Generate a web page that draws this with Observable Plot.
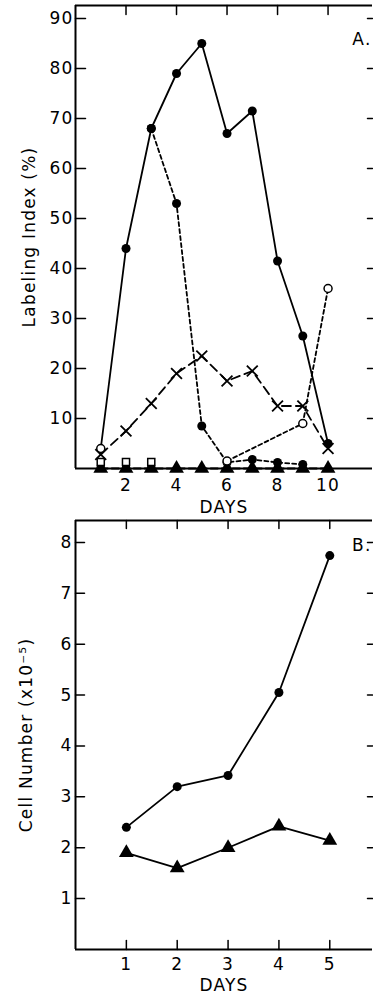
<!DOCTYPE html>
<html><head><meta charset="utf-8">
<script src="https://cdn.jsdelivr.net/npm/d3@7"></script>
<script src="https://cdn.jsdelivr.net/npm/@observablehq/plot@0.6"></script>
<style>
body{margin:0;background:#fff}
#c svg{display:block;overflow:visible}
</style>
</head><body><div id="c"></div>
<script>
// ---------- Panel A data ----------
const tickDaysA = [2, 4, 6, 8, 10];
const yTicksA = [10, 20, 30, 40, 50, 60, 70, 80, 90];
const yMaxA = 92.6, xMaxA = 11.76;
const solidDays = [1, 2, 3, 4, 5, 6, 7, 8, 9, 10];
const solidVals = [4, 44, 68, 79, 85, 67, 71.5, 41.5, 26.5, 5];
const dashedDays = [3, 4, 5, 6, 7, 8, 9];
const dashedVals = [68, 53, 8.5, 1.2, 1.8, 1.2, 0.8];
const lowDotDays = [1, 2, 3];
const lowDotVals = [0.4, 0.4, 0.4];
const openDays = [1, 6, 9, 10];
const openVals = [4, 1.5, 9, 36];
const crossDays = [1, 2, 3, 4, 5, 6, 7, 8, 9, 10];
const crossVals = [2.8, 7.5, 13, 19, 22.5, 17.5, 19.5, 12.5, 12.5, 4];
const squareDays = [1, 2, 3];
const squareVals = [1.3, 1.3, 1.3];
const triDays = [1, 2, 3, 4, 5, 6, 7, 8, 9, 10];
const triVals = [0, 0, 0, 0, 0, 0, 0, 0, 0, 0];

// ---------- Panel B data ----------
const daysB = [1, 2, 3, 4, 5];
const yTicksB = [1, 2, 3, 4, 5, 6, 7, 8];
const yMaxB = 8.43, xMaxB = 5.84;
const circB = [2.4, 3.2, 3.42, 5.05, 7.74];
const triB = [1.9, 1.6, 2.0, 2.42, 2.14];

const zip = (xs, ys) => xs.map((x, i) => ({x, y: ys[i]}));
const solid = zip(solidDays, solidVals);
const dashed = zip(dashedDays, dashedVals);
const lowDots = zip(lowDotDays, lowDotVals);
const openLine = zip(openDays.slice(1), openVals.slice(1));
const openPts = zip(openDays, openVals);
const crosses = zip(crossDays, crossVals);
const squares = zip(squareDays, squareVals);
const tris = zip(triDays, triVals);
const bCirc = zip(daysB, circB);
const bTri = zip(daysB, triB);

const style = {fontFamily: "DejaVu Sans, sans-serif", fontSize: "17px", color: "#000", background: "#fff", letterSpacing: "1.2px"};
const tickShape = {draw(context, l) { context.moveTo(0, 0); context.lineTo(0, -l); }};
// inward tick marks drawn as short vectors
const ticksLeft = (vals, len) => Plot.vector(vals, {x: () => 0, y: d => d, length: len, rotate: 90, anchor: "start", shape: tickShape, strokeWidth: 1.5});
const ticksRight = (vals, xm, len) => Plot.vector(vals, {x: () => xm, y: d => d, length: len, rotate: -90, anchor: "start", shape: tickShape, strokeWidth: 1.5});
const ticksTop = (vals, ym, len) => Plot.vector(vals, {x: d => d, y: () => ym, length: len, rotate: 180, anchor: "start", shape: tickShape, strokeWidth: 1.5});
const ticksBottom = (vals, len) => Plot.vector(vals, {x: d => d, y: () => 0, length: len, rotate: 0, anchor: "start", shape: tickShape, strokeWidth: 1.5});

const A = Plot.plot({
  width: 373, height: 515,
  marginLeft: 75, marginRight: 1, marginTop: 5, marginBottom: 47,
  style,
  x: {domain: [0, xMaxA]},
  y: {domain: [0, yMaxA]},
  marks: [
    Plot.axisY({ticks: yTicksA, tickSize: 0, tickPadding: 2, label: "Labeling Index (%)", labelAnchor: "center", labelArrow: "none", labelOffset: 53}),
    Plot.axisX({ticks: tickDaysA, tickSize: 0, tickPadding: 10, label: "DAYS", labelAnchor: "center", labelArrow: "none", labelOffset: 44}),
    ticksLeft(yTicksA, 10),
    ticksRight(yTicksA, xMaxA, 5),
    ticksTop(tickDaysA, yMaxA, 9),
    Plot.ruleX([0], {strokeWidth: 2}),
    Plot.ruleY([0], {strokeWidth: 2}),
    Plot.ruleY([yMaxA], {strokeWidth: 2}),
    Plot.line(tris, {x: "x", y: "y", strokeWidth: 1.8, strokeDasharray: "7,4"}),
    Plot.line(solid, {x: "x", y: "y", strokeWidth: 1.8}),
    Plot.line(dashed, {x: "x", y: "y", strokeWidth: 1.8, strokeDasharray: "4,3"}),
    Plot.line(openLine, {x: "x", y: "y", strokeWidth: 1.8, strokeDasharray: "4,3"}),
    Plot.line(crosses, {x: "x", y: "y", strokeWidth: 1.8, strokeDasharray: "9,5"}),
    Plot.dot(solid.slice(1), {x: "x", y: "y", r: 4.5, fill: "#000"}),
    Plot.dot(dashed, {x: "x", y: "y", r: 4.5, fill: "#000"}),
    Plot.dot(lowDots, {x: "x", y: "y", r: 4, fill: "#000"}),
    Plot.dot(tris, {x: "x", y: "y", r: 5.5, symbol: "triangle", fill: "#000"}),
    Plot.dot(squares, {x: "x", y: "y", r: 4, symbol: "square", fill: "#fff", stroke: "#000", strokeWidth: 1.5}),
    Plot.dot(openPts, {x: "x", y: "y", r: 4, fill: "#fff", stroke: "#000", strokeWidth: 1.5}),
    Plot.dot(crosses, {x: "x", y: "y", r: 5, symbol: "times", stroke: "#000", strokeWidth: 1.8}),
    Plot.text(["A."], {frameAnchor: "top-right", textAnchor: "end", dx: -1, dy: 27, fontSize: 17})
  ]
});

const B = Plot.plot({
  width: 373, height: 480,
  marginLeft: 75, marginRight: 1, marginTop: 5, marginBottom: 46,
  style,
  x: {domain: [0, xMaxB]},
  y: {domain: [0, yMaxB]},
  marks: [
    Plot.axisY({ticks: yTicksB, tickSize: 0, tickPadding: 3, tickFormat: d3.format("d"), label: "Cell Number (x10⁻⁵)", labelAnchor: "center", labelArrow: "none", labelOffset: 56}),
    Plot.axisX({ticks: daysB, tickSize: 0, tickPadding: 8, tickFormat: d3.format("d"), label: "DAYS", labelAnchor: "center", labelArrow: "none", labelOffset: 41}),
    ticksLeft(yTicksB, 9),
    ticksRight(yTicksB, xMaxB, 5),
    ticksTop(daysB, yMaxB, 8),
    ticksBottom(daysB, 9),
    Plot.ruleX([0], {strokeWidth: 2}),
    Plot.ruleY([0], {strokeWidth: 2}),
    Plot.ruleY([yMaxB], {strokeWidth: 2}),
    Plot.line(bCirc, {x: "x", y: "y", strokeWidth: 1.8}),
    Plot.line(bTri, {x: "x", y: "y", strokeWidth: 1.8}),
    Plot.dot(bCirc, {x: "x", y: "y", r: 4.5, fill: "#000"}),
    Plot.dot(bTri, {x: "x", y: "y", r: 5.5, symbol: "triangle", fill: "#000"}),
    Plot.text(["B."], {frameAnchor: "top-right", textAnchor: "end", dx: -1, dy: 18, fontSize: 17})
  ]
});

document.getElementById("c").append(A, B);
</script>
</body></html>
